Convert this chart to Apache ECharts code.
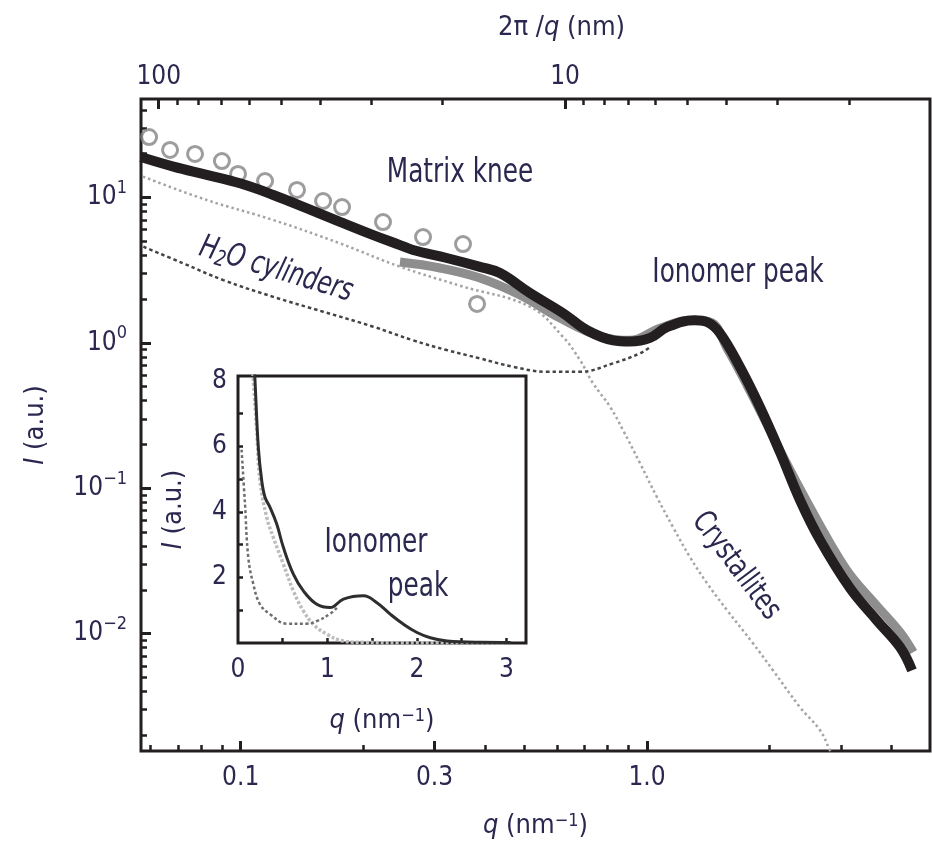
<!DOCTYPE html>
<html><head><meta charset="utf-8">
<script src="https://cdn.jsdelivr.net/npm/echarts@6/dist/echarts.min.js"></script>
<style>html,body{margin:0;padding:0;background:#fff}#c{width:932px;height:844px}</style>
</head><body><div id="c"></div>
<script>
// ---------- data (q in nm^-1, I in a.u.) ----------
const totalQ = [0.0568,0.0683,0.0825,0.0996,0.1203,0.1456,0.1755,0.212,0.2466,0.2655,0.3214,0.388,0.4346,0.515,0.621,0.712,0.825,0.908,1.017,1.12,1.31,1.405,1.51,1.694,1.897,2.125,2.38,2.666,3.16,3.68,4.196,4.49];
const totalI = [18.97,16.3,14.3,12.5,10.4,8.41,6.80,5.51,4.70,4.35,3.83,3.33,3.02,2.20,1.60,1.22,1.04,1.02,1.08,1.28,1.43,1.39,1.17,0.68,0.361,0.177,0.0827,0.0439,0.0205,0.0123,0.00805,0.00558];
const dataQ = [0.2466,0.3094,0.388,0.487,0.611,0.766,0.908,1.076,1.276,1.43,1.58,1.77,1.98,2.2,2.45,2.82,3.16,3.68,4.196,4.52];
const dataI = [3.59,3.27,2.79,2.13,1.48,1.11,1.04,1.26,1.43,1.39,0.90,0.50,0.27,0.150,0.085,0.042,0.0254,0.0155,0.0102,0.00744];
const circQ = [0.0595,0.067,0.0772,0.0899,0.0985,0.1148,0.1376,0.1595,0.1776,0.224,0.281,0.3525,0.3817];
const circI = [26.0,21.2,19.9,17.8,14.5,12.97,11.25,9.45,8.59,6.77,5.34,4.78,1.85];
const crysQ = [0.0575,0.0825,0.1203,0.1755,0.2466,0.35,0.515,0.621,0.684,0.736,0.811,0.873,0.961,1.058,1.159,1.276,1.405,1.574,1.823,2.042,2.38,2.666,2.82,3.0];
const crysI = [13.9,9.6,6.99,4.83,3.34,2.45,1.77,1.10,0.76,0.528,0.363,0.2506,0.1486,0.0867,0.0539,0.0335,0.0222,0.01447,0.00857,0.00559,0.00311,0.00216,0.00157,0.0011];
const waterQ = [0.0576,0.0722,0.0906,0.1203,0.1597,0.212,0.2655,0.3214,0.388,0.468,0.566,0.684,0.825,0.961,1.017];
const waterI = [4.58,3.52,2.70,2.07,1.635,1.29,1.04,0.891,0.781,0.684,0.632,0.632,0.722,0.846,0.934];
// inset (linear)
const insTotalQ = [0.18,0.19,0.227,0.265,0.302,0.358,0.433,0.507,0.619,0.731,0.881,1.03,1.179,1.403,1.553,1.702,1.851,2.001,2.15,2.337,2.71,3.05];
const insTotalI = [8.5,8.02,5.98,4.96,4.45,4.14,3.63,2.92,2.10,1.59,1.18,1.08,1.34,1.44,1.23,0.88,0.57,0.32,0.16,0.06,0.02,0.015];
const insCrysQ = [0.165,0.171,0.209,0.246,0.321,0.395,0.507,0.619,0.731,0.843,0.993,1.179,1.4,1.8,2.4,3.0];
const insCrysI = [8.4,8.07,6.49,4.96,3.84,3.22,2.41,1.59,0.98,0.57,0.27,0.06,0.02,0.01,0.01,0.01];
const insWaterQ = [0.04,0.078,0.115,0.171,0.246,0.358,0.545,0.769,0.881,1.03,1.105];
const insWaterI = [5.9,4.25,2.61,1.80,1.18,0.88,0.59,0.59,0.67,0.89,1.07];
// ---------- ticks ----------
const xMajor = [0.1,0.3,1.0];
const xMajorLabels = ['0.1','0.3','1.0'];
const xMinor = [0.06,0.07,0.08,0.09,0.2,0.4,0.5,0.6,0.7,0.8,0.9,2,3,4];
const topMajor = [100,10];
const topMajorLabels = ['100','10'];
const topMinor = [90,80,70,60,50,40,30,20,9,8,7,6,5,4,3,2];
const yMajor = [0.01,0.1,1,10];
const yMinor = [0.002,0.003,0.004,0.005,0.006,0.007,0.008,0.009,0.02,0.03,0.04,0.05,0.06,0.07,0.08,0.09,0.2,0.3,0.4,0.5,0.6,0.7,0.8,0.9,2,3,4,5,6,7,8,9,20,30,40];
const insXLabels = [0,1,2,3];
const insXTicks = [0.5,1,1.5,2,2.5,3];
const insYLabels = [2,4,6,8];
const insYTicks = [1,2,3,4,5,6,7];

const FONT = "'Liberation Sans Narrow','Arial Narrow','DejaVu Sans Condensed','Liberation Sans',sans-serif";
const TXT = '#2b2850';
const AX = '#231f20';
const L = v => Math.log10(v);
const XMIN = -1.2454, XMAX = 0.6965, YMIN = -2.808, YMAX = 1.677;
const toLog = (qs, is) => qs.map((q, i) => [L(q), L(is[i])]);
const toLin = (qs, is) => qs.map((q, i) => [q, is[i]]);
const pick = (vals, labels, v, f) => { let b = 0, d = 1e9; vals.forEach((x, i) => { const dd = Math.abs(f(x) - v); if (dd < d) { d = dd; b = i; } }); return labels[b]; };
const TS = 26, NS = 27;
const lbl = { fontSize: TS, fontFamily: FONT, color: TXT };
const richSup = {
  b: { fontSize: TS, fontFamily: FONT, color: TXT, lineHeight: 36 },
  s: { fontSize: 18, fontFamily: FONT, color: TXT, lineHeight: 18, verticalAlign: 'top' },
  i: { fontSize: NS, fontFamily: FONT, color: TXT, fontStyle: 'italic' },
  n: { fontSize: NS, fontFamily: FONT, color: TXT }
};
const qTop = d => L(2 * Math.PI / d);
const ann = (text, x, y, deg, extra) => ({ type: 'text', x, y, rotation: (deg || 0) * Math.PI / 180, scaleX: 0.81,
  style: Object.assign({ text, fontSize: 34, fontFamily: FONT, fill: TXT, align: 'center', verticalAlign: 'middle' }, extra || {}) });

const chart = echarts.init(document.getElementById('c'), null, { renderer: 'canvas' });
chart.setOption({
  animation: false,
  backgroundColor: '#fff',
  grid: [
    { left: 141, top: 99, width: 789, height: 652, show: true, borderColor: AX, borderWidth: 3, backgroundColor: 'transparent', outerBoundsMode: 'none' },
    { left: 238, top: 376, width: 288, height: 267, show: true, borderColor: AX, borderWidth: 3, backgroundColor: 'transparent', outerBoundsMode: 'none' }
  ],
  xAxis: [
    { type: 'value', gridIndex: 0, position: 'bottom', min: XMIN, max: XMAX,
      axisLine: { show: false, onZero: false },
      axisTick: { inside: true, length: 10, lineStyle: { width: 3, color: AX }, customValues: xMajor.map(L) },
      axisLabel: { ...lbl, margin: 14, customValues: xMajor.map(L), formatter: v => pick(xMajor, xMajorLabels, v, L) },
      splitLine: { show: false },
      name: '{i|q}{n| (nm}{s|−1}{n|)}', nameLocation: 'middle', nameGap: 61,
      nameTextStyle: { fontSize: NS, fontFamily: FONT, color: TXT, rich: richSup } },
    { type: 'value', gridIndex: 0, position: 'bottom', min: XMIN, max: XMAX,
      axisLine: { show: false, onZero: false },
      axisTick: { inside: true, length: 6, lineStyle: { width: 2.5, color: AX }, customValues: xMinor.map(L) },
      axisLabel: { show: false }, splitLine: { show: false } },
    { type: 'value', gridIndex: 0, position: 'top', min: XMIN, max: XMAX,
      axisLine: { show: false, onZero: false },
      axisTick: { inside: true, length: 10, lineStyle: { width: 3, color: AX }, customValues: topMajor.map(qTop) },
      axisLabel: { ...lbl, margin: 9, customValues: topMajor.map(qTop), formatter: v => pick(topMajor, topMajorLabels, v, qTop) },
      splitLine: { show: false },
      name: '{n|2π /}{i|q}{n| (nm)}', nameLocation: 'middle', nameGap: 58,
      nameTextStyle: { fontSize: NS, fontFamily: FONT, color: TXT, rich: richSup, padding: [0, 0, 0, 52] } },
    { type: 'value', gridIndex: 0, position: 'top', min: XMIN, max: XMAX,
      axisLine: { show: false, onZero: false },
      axisTick: { inside: true, length: 6, lineStyle: { width: 2.5, color: AX }, customValues: topMinor.map(qTop) },
      axisLabel: { show: false }, splitLine: { show: false } },
    { type: 'value', gridIndex: 1, position: 'bottom', min: 0, max: 3.22,
      axisLine: { show: false, onZero: false },
      axisTick: { inside: true, length: 5, lineStyle: { width: 2.5, color: AX }, customValues: insXTicks },
      axisLabel: { ...lbl, margin: 14, customValues: insXLabels, formatter: v => String(Math.round(v)) },
      splitLine: { show: false },
      name: '{i|q}{n| (nm}{s|−1}{n|)}', nameLocation: 'middle', nameGap: 64,
      nameTextStyle: { fontSize: NS, fontFamily: FONT, color: TXT, rich: richSup } }
  ],
  yAxis: [
    { type: 'value', gridIndex: 0, position: 'left', min: YMIN, max: YMAX,
      axisLine: { show: false, onZero: false },
      axisTick: { inside: true, length: 10, lineStyle: { width: 3, color: AX }, customValues: yMajor.map(L) },
      axisLabel: { margin: 14, customValues: yMajor.map(L), rich: richSup,
        formatter: v => { const e = Math.round(v); return '{b|10}{s|' + (e < 0 ? '−' + (-e) : e) + '}'; } },
      splitLine: { show: false },
      name: '{i|I}{n| (a.u.)}', nameLocation: 'middle', nameGap: 92,
      nameTextStyle: { fontSize: NS, fontFamily: FONT, color: TXT, rich: richSup } },
    { type: 'value', gridIndex: 0, position: 'left', min: YMIN, max: YMAX,
      axisLine: { show: false, onZero: false },
      axisTick: { inside: true, length: 6, lineStyle: { width: 2.5, color: AX }, customValues: yMinor.map(L) },
      axisLabel: { show: false }, splitLine: { show: false } },
    { type: 'value', gridIndex: 1, position: 'left', min: 0, max: 8.15,
      axisLine: { show: false, onZero: false },
      axisTick: { inside: true, length: 5, lineStyle: { width: 2.5, color: AX }, customValues: insYTicks },
      axisLabel: { ...lbl, margin: 11, customValues: insYLabels, formatter: v => String(Math.round(v)) },
      splitLine: { show: false },
      name: '{i|I}{n| (a.u.)}', nameLocation: 'middle', nameGap: 51,
      nameTextStyle: { fontSize: NS, fontFamily: FONT, color: TXT, rich: richSup } }
  ],
  series: [
    { name: 'USAXS data', type: 'scatter', xAxisIndex: 0, yAxisIndex: 0, data: toLog(circQ, circI),
      symbol: 'circle', symbolSize: 15, itemStyle: { color: 'rgba(255,255,255,0)', borderColor: '#858585', borderWidth: 3 }, z: 2 },
    { name: 'SAXS data', type: 'line', xAxisIndex: 0, yAxisIndex: 0, data: toLog(dataQ, dataI), smooth: 0.4,
      showSymbol: false, lineStyle: { color: '#8e8e8e', width: 9 }, z: 3 },
    { name: 'Crystallites', type: 'line', xAxisIndex: 0, yAxisIndex: 0, data: toLog(crysQ, crysI), smooth: 0.4,
      showSymbol: false, lineStyle: { color: '#a4a4a4', width: 2.5, type: [2.5, 3] }, z: 3 },
    { name: 'H2O cylinders', type: 'line', xAxisIndex: 0, yAxisIndex: 0, data: toLog(waterQ, waterI), smooth: 0.4,
      showSymbol: false, lineStyle: { color: '#444', width: 2.5, type: [3.5, 3] }, z: 3 },
    { name: 'Total fit', type: 'line', xAxisIndex: 0, yAxisIndex: 0, data: toLog(totalQ, totalI), smooth: 0.4,
      showSymbol: false, lineStyle: { color: AX, width: 10 }, z: 4 },
    { name: 'Inset crystallites', type: 'line', xAxisIndex: 4, yAxisIndex: 2, data: toLin(insCrysQ, insCrysI), smooth: 0.4,
      showSymbol: false, lineStyle: { color: '#bdbdbd', width: 3.5, type: [3, 2] }, z: 3 },
    { name: 'Inset H2O', type: 'line', xAxisIndex: 4, yAxisIndex: 2, data: toLin(insWaterQ, insWaterI), smooth: 0.4,
      showSymbol: false, lineStyle: { color: '#6e6e6e', width: 2.5, type: [3, 2.5] }, z: 3 },
    { name: 'Inset total', type: 'line', xAxisIndex: 4, yAxisIndex: 2, data: toLin(insTotalQ, insTotalI), smooth: 0.4,
      showSymbol: false, lineStyle: { color: '#2e2e2e', width: 3 }, z: 4 }
  ],
  graphic: [
    ann('Matrix knee', 460, 173),
    ann('Ionomer peak', 738, 273),
    ann('H{sub|2}O cylinders', 276, 270, -17, { fontSize: 32, fontStyle: 'italic',
      rich: { sub: { fontSize: 22, fontStyle: 'italic', fontFamily: FONT, fill: TXT, padding: [14, 0, 0, 0] } } }),
    ann('Crystallites', 736, 566, -53, { fontSize: 31 }),
    ann('Ionomer', 376, 543),
    ann('peak', 418, 587)
  ]
});
</script></body></html>
